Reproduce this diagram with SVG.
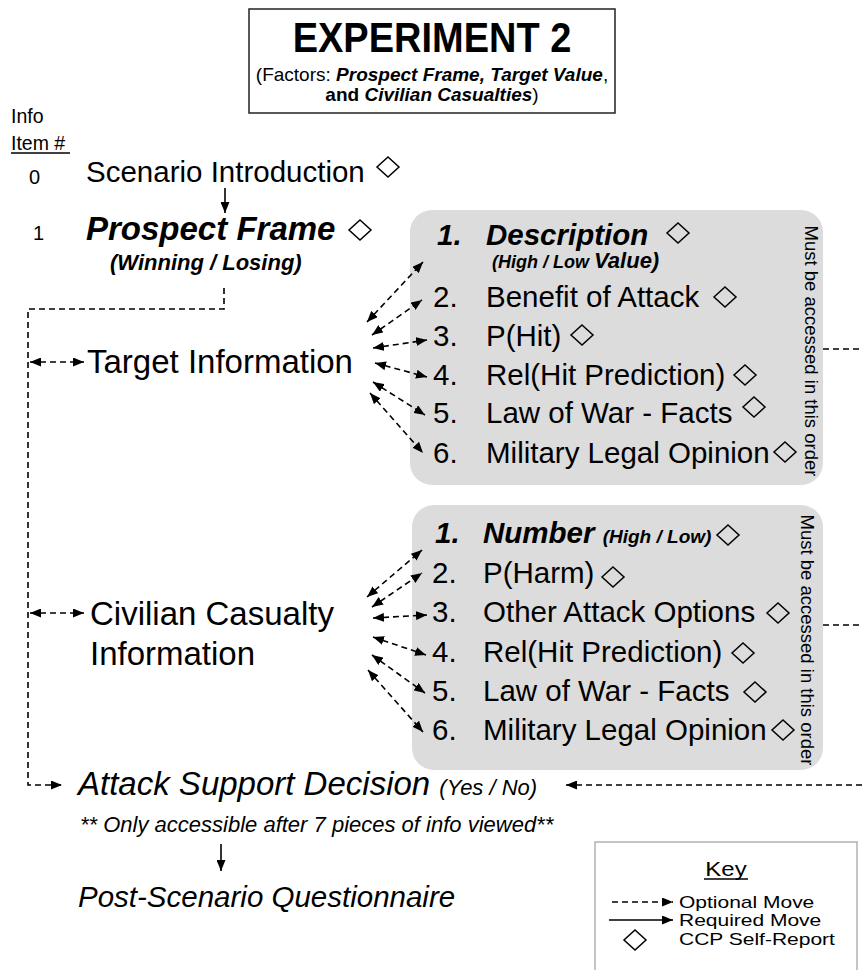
<svg xmlns="http://www.w3.org/2000/svg" width="862" height="970" viewBox="0 0 862 970">
<style>
text{font-family:"Liberation Sans",Arial,sans-serif;fill:#000}
.bi{font-weight:bold;font-style:italic}
.b{font-weight:bold}
.i{font-style:italic}
.item{font-size:29.5px}
.dash{fill:none;stroke:#000;stroke-width:1.6;stroke-dasharray:6,4}
.solid{fill:none;stroke:#000;stroke-width:1.6}
.dia{fill:none;stroke:#000;stroke-width:1.5}
.gbox{fill:#dcdcdc}
.vt{font-size:18.5px}
.key{font-size:21px}
</style>
<defs>
<marker id="ah" viewBox="0 0 11 9" refX="11" refY="4.5" markerWidth="11" markerHeight="9" markerUnits="userSpaceOnUse" orient="auto-start-reverse"><path d="M0,0 L11,4.5 L0,9 z" fill="#000"/></marker>
<path id="d" d="M0,-10 L11,0 L0,10 L-11,0 Z"/>
</defs>

<g id="title">
<rect x="249" y="9" width="366" height="104" fill="none" stroke="#222" stroke-width="1.5"/>
<text transform="translate(432,52) scale(1,1.12)" text-anchor="middle" class="b" font-size="38">EXPERIMENT 2</text>
<text x="432" y="81" text-anchor="middle" font-size="19">(Factors: <tspan class="bi">Prospect Frame, Target Value</tspan>,</text>
<text x="432" y="101" text-anchor="middle" font-size="19"><tspan class="b">and </tspan><tspan class="bi">Civilian Casualties</tspan>)</text>
</g>

<g id="header">
<text x="11" y="123" font-size="19.5">Info</text>
<text x="11" y="150" font-size="19.5">Item #</text>
<line x1="11" y1="153" x2="70" y2="153" stroke="#000" stroke-width="1.3"/>
</g>

<g id="scenario">
<text x="29" y="184" font-size="20">0</text>
<text x="86" y="182" font-size="29.5">Scenario Introduction</text>
<use href="#d" x="388" y="167" class="dia"/>
</g>

<g id="prospect">
<text x="33" y="240" font-size="20">1</text>
<text x="86" y="240" class="bi" font-size="33">Prospect Frame</text>
<use href="#d" x="360" y="230" class="dia"/>
<text x="110" y="270" class="bi" font-size="22">(Winning / Losing)</text>
</g>

<g id="target">
<text x="87" y="373" font-size="33">Target Information</text>
</g>

<g id="target-box">
<rect x="410" y="210" width="413" height="275" rx="22" class="gbox"/>
<text x="437" y="245" class="bi item">1.</text>
<text x="486" y="245" class="bi item">Description</text>
<use href="#d" x="678" y="233" class="dia"/>
<text x="492" y="268" class="bi" font-size="18">(High / Low <tspan font-size="22">Value)</tspan></text>
<text x="433" y="307" class="item">2.</text>
<text x="486" y="307" class="item">Benefit of Attack</text>
<use href="#d" x="725" y="297" class="dia"/>
<text x="433" y="346" class="item">3.</text>
<text x="486" y="346" class="item">P(Hit)</text>
<use href="#d" x="582" y="335" class="dia"/>
<text x="433" y="385" class="item">4.</text>
<text x="486" y="385" class="item">Rel(Hit Prediction)</text>
<use href="#d" x="745" y="375" class="dia"/>
<text x="433" y="423" class="item">5.</text>
<text x="486" y="423" class="item">Law of War - Facts</text>
<use href="#d" x="754" y="407" class="dia"/>
<text x="433" y="463" class="item">6.</text>
<text x="486" y="463" class="item">Military Legal Opinion</text>
<use href="#d" x="785" y="452" class="dia"/>
<text transform="translate(805,351) rotate(90)" text-anchor="middle" class="vt">Must be accessed in this order</text>
</g>

<g id="civilian">
<text x="90" y="625" font-size="33">Civilian Casualty</text>
<text x="90" y="665" font-size="33">Information</text>
</g>

<g id="civilian-box">
<rect x="412" y="505" width="411" height="265" rx="22" class="gbox"/>
<text x="435" y="543" class="bi item">1.</text>
<text x="483" y="543" class="bi item">Number <tspan font-size="19">(High / Low)</tspan></text>
<use href="#d" x="728" y="535" class="dia"/>
<text x="432" y="583" class="item">2.</text>
<text x="483" y="583" class="item">P(Harm)</text>
<use href="#d" x="613" y="577" class="dia"/>
<text x="432" y="622" class="item">3.</text>
<text x="483" y="622" class="item">Other Attack Options</text>
<use href="#d" x="778" y="613" class="dia"/>
<text x="432" y="662" class="item">4.</text>
<text x="483" y="662" class="item">Rel(Hit Prediction)</text>
<use href="#d" x="743" y="653" class="dia"/>
<text x="432" y="701" class="item">5.</text>
<text x="483" y="701" class="item">Law of War - Facts</text>
<use href="#d" x="755" y="692" class="dia"/>
<text x="432" y="740" class="item">6.</text>
<text x="483" y="740" class="item">Military Legal Opinion</text>
<use href="#d" x="783" y="730" class="dia"/>
<text transform="translate(801,640) rotate(90)" text-anchor="middle" class="vt">Must be accessed in this order</text>
</g>

<g id="decision">
<text x="78" y="795" class="i" font-size="33">Attack Support Decision <tspan font-size="22">(Yes / No)</tspan></text>
<text x="80" y="832" class="i" font-size="22">** Only accessible after 7 pieces of info viewed**</text>
</g>

<g id="questionnaire">
<text x="78" y="907" class="i" font-size="29.5">Post-Scenario Questionnaire</text>
</g>

<g id="key">
<rect x="595" y="842" width="262" height="140" fill="none" stroke="#a6a6a6" stroke-width="1.3"/>
<text transform="translate(726,876) scale(1,0.85)" text-anchor="middle" font-size="24">Key</text>
<line x1="704" y1="879" x2="748" y2="879" stroke="#000" stroke-width="1.3"/>
<line x1="612" y1="902" x2="673" y2="902" class="dash" stroke-dasharray="5,4" marker-end="url(#ah)"/>
<text transform="translate(679,908) scale(1,0.8)" class="key">Optional Move</text>
<line x1="609" y1="920" x2="673" y2="920" class="solid" marker-end="url(#ah)"/>
<text transform="translate(679,926) scale(1,0.8)" class="key">Required Move</text>
<use href="#d" x="635" y="940" class="dia"/>
<text transform="translate(679,945) scale(1,0.8)" class="key">CCP Self-Report</text>
</g>

<g id="connectors">
<line x1="225" y1="188" x2="225" y2="213" class="solid" marker-end="url(#ah)"/>
<line x1="221" y1="844" x2="221" y2="871" class="solid" marker-end="url(#ah)"/>
<path d="M224,288 V309 H28 V785 H62" class="dash" marker-end="url(#ah)"/>
<line x1="30" y1="362" x2="84" y2="362" class="dash" marker-start="url(#ah)" marker-end="url(#ah)"/>
<line x1="30" y1="613" x2="84" y2="613" class="dash" marker-start="url(#ah)" marker-end="url(#ah)"/>
<line x1="367" y1="322" x2="423" y2="262" class="dash" marker-start="url(#ah)" marker-end="url(#ah)"/>
<line x1="372" y1="335" x2="422" y2="300" class="dash" marker-start="url(#ah)" marker-end="url(#ah)"/>
<line x1="373" y1="348" x2="427" y2="340" class="dash" marker-start="url(#ah)" marker-end="url(#ah)"/>
<line x1="375" y1="363" x2="427" y2="377" class="dash" marker-start="url(#ah)" marker-end="url(#ah)"/>
<line x1="373" y1="382" x2="425" y2="415" class="dash" marker-start="url(#ah)" marker-end="url(#ah)"/>
<line x1="370" y1="393" x2="423" y2="453" class="dash" marker-start="url(#ah)" marker-end="url(#ah)"/>
<line x1="367" y1="597" x2="422" y2="550" class="dash" marker-start="url(#ah)" marker-end="url(#ah)"/>
<line x1="372" y1="607" x2="422" y2="573" class="dash" marker-start="url(#ah)" marker-end="url(#ah)"/>
<line x1="373" y1="618" x2="427" y2="615" class="dash" marker-start="url(#ah)" marker-end="url(#ah)"/>
<line x1="373" y1="637" x2="426" y2="655" class="dash" marker-start="url(#ah)" marker-end="url(#ah)"/>
<line x1="372" y1="655" x2="425" y2="693" class="dash" marker-start="url(#ah)" marker-end="url(#ah)"/>
<line x1="368" y1="670" x2="423" y2="732" class="dash" marker-start="url(#ah)" marker-end="url(#ah)"/>
<line x1="823" y1="349" x2="862" y2="349" class="dash"/>
<line x1="823" y1="625" x2="862" y2="625" class="dash"/>
<line x1="862" y1="785" x2="566" y2="785" class="dash" marker-end="url(#ah)"/>
</g>
</svg>
